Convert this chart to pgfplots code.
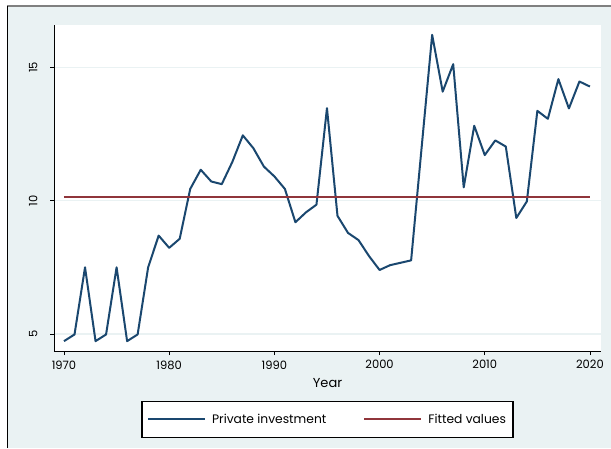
\documentclass[border=0pt]{standalone}
\usepackage{fontspec}
\setmainfont{Poppins}
\usepackage{pgfplots}
\pgfplotsset{compat=1.18}
\definecolor{stbg}{RGB}{234,242,243}
\definecolor{stnavy}{RGB}{26,71,111}
\definecolor{stmaroon}{RGB}{144,53,59}

\begin{document}
\begin{tikzpicture}[x=1pt,y=1pt]
\useasboundingbox (0,0) rectangle (611,448);
\fill[white] (0,0) rectangle (611,448);
\fill[stbg] (7,0) rectangle (611,442);
\draw[gray, line width=1.2pt] (7,442) -- (611,442);
\draw[black, line width=1pt] (7,0) -- (7,442);
\begin{axis}[
    at={(54pt,97pt)}, anchor=south west,
    scale only axis, width=547pt, height=326pt,
    xmin=1969.05, xmax=2021.05, ymin=4.36, ymax=16.59,
    axis x line=bottom, axis y line=left,
    axis line style={-, black, line width=0.8pt},
    axis background/.style={fill=white},
    xtick={1970,1980,...,2020}, ytick={5,10,15},
    tick align=outside, major tick length=4pt,
    tick style={black, line width=0.8pt},
    ymajorgrids, major grid style={stbg, line width=1.5pt},
    /pgf/number format/assume math mode=true,
    /pgf/number format/1000 sep={},
    ticklabel style={font=\fontsize{11.5}{13}\selectfont},
    yticklabel style={rotate=90, anchor=south},
    yticklabel shift=9pt,
    xticklabel shift=2pt,
    xlabel={Year},
    xlabel style={font=\fontsize{13}{15}\selectfont, at={(axis description cs:0.5,-0.098)}, anchor=center},
    legend columns=2,
    legend style={at={(axis description cs:0.5,-0.210)}, anchor=center,
        draw=black, line width=1.4pt, fill=white,
        font=\fontsize{12.3}{14}\selectfont,
        inner xsep=5pt, inner ysep=10.5pt,
        /tikz/every odd column/.append style={column sep=4pt},
        /tikz/every even column/.append style={column sep=35pt}},
    legend image code/.code={\draw[#1, line width=2pt] (0pt,0pt) -- (57pt,0pt);},
]
\addplot[stnavy, line width=2pt, line join=round] coordinates {
 (1970,4.73) (1971,4.98) (1972,7.50) (1973,4.73) (1974,4.98) (1975,7.50)
 (1976,4.73) (1977,4.98) (1978,7.50) (1979,8.69) (1980,8.23) (1981,8.57)
 (1982,10.44) (1983,11.16) (1984,10.72) (1985,10.62) (1986,11.45) (1987,12.45)
 (1988,11.97) (1989,11.28) (1990,10.91) (1991,10.44) (1992,9.19) (1993,9.56)
 (1994,9.85) (1995,13.47) (1996,9.43) (1997,8.79) (1998,8.52) (1999,7.92)
 (2000,7.40) (2001,7.58) (2002,7.67) (2003,7.76) (2004,12.00) (2005,16.22)
 (2006,14.09) (2007,15.12) (2008,10.50) (2009,12.81) (2010,11.71) (2011,12.26)
 (2012,12.03) (2013,9.35) (2014,9.97) (2015,13.37) (2016,13.07) (2017,14.56)
 (2018,13.46) (2019,14.47) (2020,14.28)};
\addlegendentry{Private investment}
\addplot[stmaroon, line width=2pt] coordinates {(1970,10.15) (2020,10.15)};
\addlegendentry{Fitted values\hspace{13pt}}
\end{axis}
\end{tikzpicture}
\end{document}
